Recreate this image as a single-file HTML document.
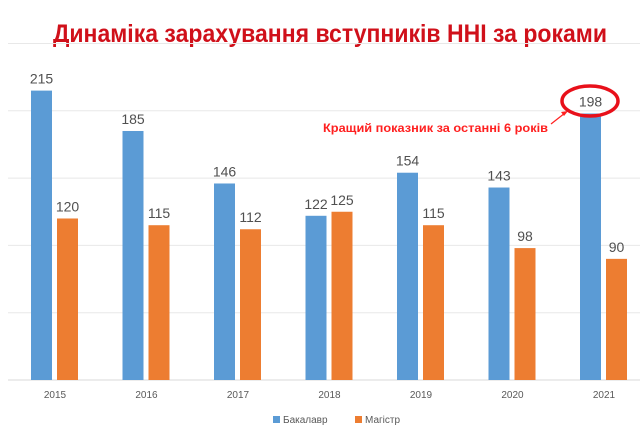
<!DOCTYPE html>
<html><head><meta charset="utf-8"><style>
html,body{margin:0;padding:0;background:#fff;width:640px;height:433px;overflow:hidden}
svg text{font-family:"Liberation Sans",sans-serif}
</style></head><body>
<svg id="chart" width="640" height="433">
<text x="330" y="42" text-anchor="middle" font-size="25" font-weight="bold" fill="#d0101a" textLength="554" lengthAdjust="spacingAndGlyphs">Динаміка зарахування вступників ННІ  за роками</text>
<g id="grid"></g><g id="bars"></g><g id="labels"></g>
<g>
<rect x="273" y="416" width="7" height="7" fill="#5b9bd5"/>
<text x="283" y="423" font-size="10" fill="#595959">Бакалавр</text>
<rect x="355" y="416" width="7" height="7" fill="#ed7d31"/>
<text x="365" y="423" font-size="10" fill="#595959">Магістр</text>
</g>
<text x="323" y="132" font-size="12" font-weight="bold" fill="#ff2020" textLength="225" lengthAdjust="spacingAndGlyphs">Кращий показник за останні 6 років</text>
<line x1="551" y1="124" x2="565" y2="113" stroke="#ff2020" stroke-width="1.2"/>
<polygon points="568,111 561,112 564,116" fill="#ff2020"/>
<ellipse cx="590" cy="101" rx="28" ry="15" fill="none" stroke="#e8101a" stroke-width="3.5"/>
</svg>
<script>
const years=["2015","2016","2017","2018","2019","2020","2021"];
const bachelor=[215,185,146,122,154,143,198];
const master=[120,115,112,125,115,98,90];
const ticks=[0,50,100,150,200,250];
const NS="http://www.w3.org/2000/svg";
const y=v=>380-v*1.346;
const cx=i=>55+i*91.5;
function mk(tag,attrs,parent){const e=document.createElementNS(NS,tag);for(const k in attrs)e.setAttribute(k,attrs[k]);document.getElementById(parent).appendChild(e);return e;}
ticks.forEach(t=>{
 const l=mk("line",{x1:8,x2:640,y1:y(t),y2:y(t),stroke:t===0?"#d9d9d9":"#e8e8e8","stroke-width":1},"grid");
 
 
});
years.forEach((yr,i)=>{
 const b=mk("rect",{x:cx(i)-24,y:y(bachelor[i]),width:21,height:380-y(bachelor[i]),fill:"#5b9bd5"},"bars");
 
 
 const m=mk("rect",{x:cx(i)+2,y:y(master[i]),width:21,height:380-y(master[i]),fill:"#ed7d31"},"bars");
 
 
 const bl=mk("text",{x:cx(i)-13.5,y:y(bachelor[i])-7,"text-anchor":"middle","font-size":14,fill:"#505050"},"labels");
 bl.textContent=bachelor[i];
 
 
 const ml=mk("text",{x:cx(i)+12.5,y:y(master[i])-7,"text-anchor":"middle","font-size":14,fill:"#505050"},"labels");
 ml.textContent=master[i];
 
 
 const xl=mk("text",{x:cx(i),y:398,"text-anchor":"middle","font-size":10,fill:"#595959"},"labels");
 xl.textContent=yr;
 
 
});
</script>
</body></html>
